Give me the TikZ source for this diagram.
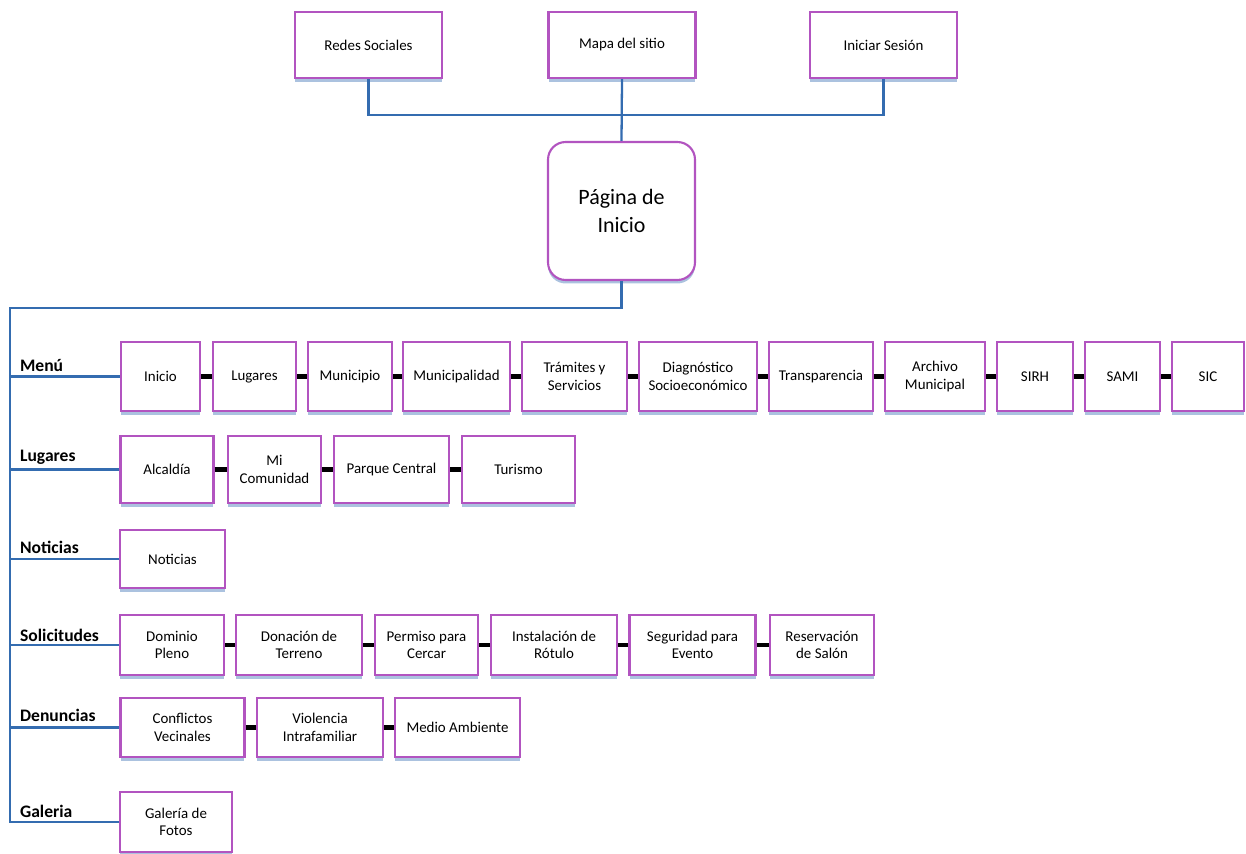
\documentclass[tikz,border=0pt]{standalone}
\usepackage{fontspec}
\setmainfont{Carlito}
\usepackage{tikz}
\usetikzlibrary{shadows}

\definecolor{boxline}{RGB}{178,84,192}
\definecolor{linkblue}{RGB}{52,108,176}

\tikzset{
    box/.style={draw=boxline, line width=1.2pt, fill=white, rectangle, align=center, inner sep=1pt,
        font=\fontsize{8.5}{10}\selectfont,
        drop shadow={shadow xshift=0pt, shadow yshift=-2pt, fill=linkblue!55, opacity=0.75}},
    link/.style={draw=linkblue, line width=1.3pt},
    joiner/.style={draw=black, line width=2.8pt},
    rowlabel/.style={anchor=south west, inner sep=1pt, font=\fontsize{10}{12}\selectfont\bfseries}
}

\begin{document}
\begin{tikzpicture}[x=0.02cm, y=-0.02cm]
    \useasboundingbox (0,0) rectangle (1246,854);

    \node[box, minimum width=2.94cm, minimum height=1.32cm] at (368.5, 45) (T1N1) {Redes Sociales};
    \node[box, minimum width=2.94cm, minimum height=1.32cm] at (622, 45) (T1N2) {Mapa del sitio};
    \node[box, minimum width=2.94cm, minimum height=1.32cm] at (883.5, 45) (T1N3) {Iniciar Sesión};
    \node[box, rounded corners=10pt, minimum width=2.94cm, minimum height=2.76cm,
        font=\fontsize{12.5}{15.5}\selectfont] at (621.5, 211) (root) {Página de\\Inicio};

    \coordinate (hub) at (622, 115);
    \coordinate (elbow) at (10, 308);
    \coordinate (trunkend) at (10, 823);
    \draw[link] (T1N1.south) |- (hub) -| (T1N3.south);
    \draw[link] (T1N2.south) -- (root.north);
    \draw[link] (root.south) |- (elbow) -- (trunkend);

    % Menú
    \node[rowlabel] at (18, 374) (R1L) {Menú};
    \node[box, minimum width=1.58cm, minimum height=1.38cm] at (160.5, 376.5) (R1N1) {Inicio};
    \node[box, minimum width=1.66cm, minimum height=1.38cm] at (254.5, 376.5) (R1N2) {Lugares};
    \node[box, minimum width=1.68cm, minimum height=1.38cm] at (350, 376.5) (R1N3) {Municipio};
    \node[box, minimum width=2.14cm, minimum height=1.38cm] at (456.5, 376.5) (R1N4) {Municipalidad};
    \node[box, minimum width=2.10cm, minimum height=1.38cm] at (574.5, 376.5) (R1N5) {Trámites y\\Servicios};
    \node[box, minimum width=2.36cm, minimum height=1.38cm] at (698, 376.5) (R1N6) {Diagnóstico\\Socioeconómico};
    \node[box, minimum width=2.08cm, minimum height=1.38cm] at (821, 376.5) (R1N7) {Transparencia};
    \node[box, minimum width=2.00cm, minimum height=1.38cm] at (935, 376.5) (R1N8) {Archivo\\Municipal};
    \node[box, minimum width=1.52cm, minimum height=1.38cm] at (1035, 376.5) (R1N9) {SIRH};
    \node[box, minimum width=1.50cm, minimum height=1.38cm] at (1122.5, 376.5) (R1N10) {SAMI};
    \node[box, minimum width=1.44cm, minimum height=1.38cm] at (1208, 376.5) (R1N11) {SIC};

    % Lugares
    \node[rowlabel] at (18, 467) (R2L) {Lugares};
    \node[box, minimum width=1.86cm, minimum height=1.34cm] at (167, 469.5) (R2N1) {Alcaldía};
    \node[box, minimum width=1.86cm, minimum height=1.34cm] at (274.5, 469.5) (R2N2) {Mi\\Comunidad};
    \node[box, minimum width=2.30cm, minimum height=1.34cm] at (391.5, 469.5) (R2N3) {Parque Central};
    \node[box, minimum width=2.26cm, minimum height=1.34cm] at (518.5, 469.5) (R2N4) {Turismo};

    % Noticias
    \node[rowlabel] at (18, 556) (R3L) {Noticias};
    \node[box, minimum width=2.10cm, minimum height=1.16cm] at (172.5, 559) (R3N1) {Noticias};

    % Solicitudes
    \node[rowlabel] at (18, 644) (R4L) {Solicitudes};
    \node[box, minimum width=2.08cm, minimum height=1.20cm] at (172, 645) (R4N1) {Dominio\\Pleno};
    \node[box, minimum width=2.52cm, minimum height=1.20cm] at (299, 645) (R4N2) {Donación de\\Terreno};
    \node[box, minimum width=2.06cm, minimum height=1.20cm] at (426.5, 645) (R4N3) {Permiso para\\Cercar};
    \node[box, minimum width=2.52cm, minimum height=1.20cm] at (554, 645) (R4N4) {Instalación de\\Rótulo};
    \node[box, minimum width=2.52cm, minimum height=1.20cm] at (692.5, 645) (R4N5) {Seguridad para\\Evento};
    \node[box, minimum width=2.08cm, minimum height=1.20cm] at (822, 645) (R4N6) {Reservación\\de Salón};

    % Denuncias
    \node[rowlabel] at (18, 724) (R5L) {Denuncias};
    \node[box, minimum width=2.48cm, minimum height=1.18cm] at (182.5, 727.5) (R5N1) {Conflictos\\Vecinales};
    \node[box, minimum width=2.52cm, minimum height=1.18cm] at (320, 727.5) (R5N2) {Violencia\\Intrafamiliar};
    \node[box, minimum width=2.50cm, minimum height=1.18cm] at (457.5, 727.5) (R5N3) {Medio Ambiente};

    % Galeria
    \node[rowlabel] at (18, 820) (R6L) {Galeria};
    \node[box, minimum width=2.24cm, minimum height=1.20cm] at (176, 822) (R6N1) {Galería de\\Fotos};

    % ramas del tronco
    \foreach \r/\y in {1/376.5, 2/469.5, 3/559, 4/645, 5/727.5, 6/822}
        \draw[link] (10, \y) coordinate (trunk\r) -- (R\r N1.west);

    % uniones entre cajas
    \foreach \a/\b in {R1N1/R1N2, R1N2/R1N3, R1N3/R1N4, R1N4/R1N5, R1N5/R1N6, R1N6/R1N7,
        R1N7/R1N8, R1N8/R1N9, R1N9/R1N10, R1N10/R1N11,
        R2N1/R2N2, R2N2/R2N3, R2N3/R2N4,
        R4N1/R4N2, R4N2/R4N3, R4N3/R4N4, R4N4/R4N5, R4N5/R4N6,
        R5N1/R5N2, R5N2/R5N3}
        \draw[joiner] (\a.east) -- (\b.west);
\end{tikzpicture}
\end{document}
